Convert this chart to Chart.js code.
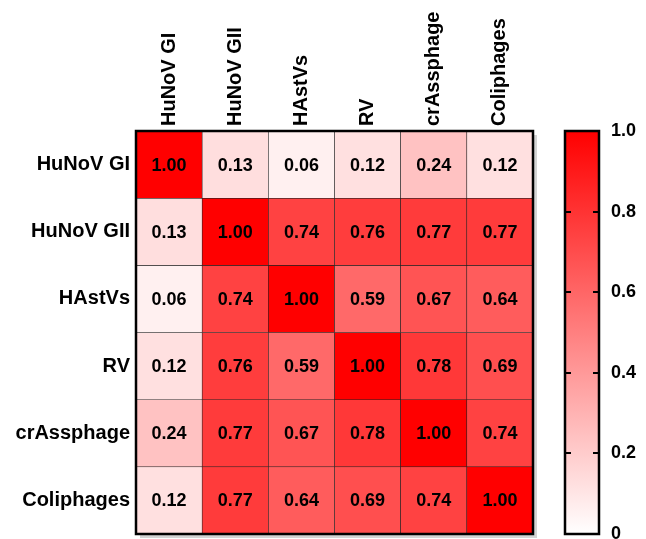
<!DOCTYPE html>
<html>
<head>
<meta charset="utf-8">
<script src="https://cdn.jsdelivr.net/npm/chart.js@4.4.1/dist/chart.umd.min.js"></script>
<style>
    html, body {margin: 0; padding: 0; background: #fff;}
    #wrap {position: relative; width: 646px; height: 539px;}
    #wrap canvas {position: absolute; left: 0; top: 0;}
</style>
</head>
<body>
<div id="wrap">
    <canvas id="heatmap" width="646" height="539"></canvas>
    <canvas id="scaleBar" width="646" height="539"></canvas>
</div>
<script>
const targets = ['HuNoV GI', 'HuNoV GII', 'HAstVs', 'RV', 'crAssphage', 'Coliphages']

const rowHuNoVGI = [1.00, 0.13, 0.06, 0.12, 0.24, 0.12]
const rowHuNoVGII = [0.13, 1.00, 0.74, 0.76, 0.77, 0.77]
const rowHAstVs = [0.06, 0.74, 1.00, 0.59, 0.67, 0.64]
const rowRV = [0.12, 0.76, 0.59, 1.00, 0.78, 0.69]
const rowCrAssphage = [0.24, 0.77, 0.67, 0.78, 1.00, 0.74]
const rowColiphages = [0.12, 0.77, 0.64, 0.69, 0.74, 1.00]
const correlations = [rowHuNoVGI, rowHuNoVGII, rowHAstVs, rowRV, rowCrAssphage, rowColiphages]

const scaleTicks = [0, 0.2, 0.4, 0.6, 0.8, 1.0]

Chart.defaults.font.family = "'Liberation Sans', Arial, sans-serif"
Chart.defaults.font.weight = 'bold'
Chart.defaults.color = '#000'

// white (0) -> pure red (1)
function heatColor(value) {
    const c = Math.round(255 * (1 - value))
    return `rgb(255, ${c}, ${c})`
}

// drop the half-label overhang so the plot area keeps its size
function noOverhang(scale) {
    scale.paddingTop = 0
    scale.paddingBottom = 0
    scale.paddingLeft = 0
    scale.paddingRight = 0
}

const cellLabels = {
    id: 'cellLabels',
    beforeDatasetsDraw(chart) {
        const {ctx, chartArea: a} = chart
        ctx.save()
        ctx.fillStyle = '#d4d4d4'
        ctx.fillRect(a.left + 4, a.top + 4, a.right - a.left, a.bottom - a.top)
        ctx.fillStyle = '#fff'
        ctx.fillRect(a.left, a.top, a.right - a.left, a.bottom - a.top)
        ctx.restore()
    },
    afterDatasetsDraw(chart) {
        const {ctx, chartArea: a} = chart
        ctx.save()
        ctx.font = "bold 18px 'Liberation Sans', Arial, sans-serif"
        ctx.fillStyle = '#000'
        ctx.textAlign = 'center'
        ctx.textBaseline = 'middle'
        chart.data.datasets.forEach((dataset, i) => {
            chart.getDatasetMeta(i).data.forEach((bar, j) => {
                const {x, y, base} = bar.getProps(['x', 'y', 'base'], true)
                ctx.fillText(correlations[i][j].toFixed(2), x, (y + base) / 2 + 1)
            })
        })
        ctx.lineWidth = 2.5
        ctx.strokeStyle = '#000'
        ctx.strokeRect(a.left, a.top, a.right - a.left, a.bottom - a.top)
        ctx.restore()
    },
}

new Chart(document.getElementById('heatmap'), {
    type: 'bar',
    plugins: [cellLabels],
    data: {
        labels: targets,
        datasets: targets.map((row, i) => ({
            label: row,
            data: correlations[i].map(() => [i, i + 1]),
            grouped: false,
            barPercentage: 1,
            categoryPercentage: 1,
            backgroundColor: context => heatColor(correlations[i][context.dataIndex]),
            borderColor: '#222',
            borderWidth: 0.6,
            borderSkipped: false,
        })),
    },
    options: {
        responsive: false,
        animation: false,
        layout: {padding: {left: 0, top: 0, right: 113, bottom: 5}},
        plugins: {legend: {display: false}, tooltip: {enabled: false}},
        scales: {
            x: {
                position: 'top',
                grid: {display: false, drawTicks: false},
                border: {display: false},
                ticks: {
                    minRotation: 90,
                    maxRotation: 90,
                    padding: 5,
                    labelOffset: 24,
                    font: {size: 20, weight: 'bold'},
                    color: '#000',
                },
                afterFit: scale => {
                    scale.height = 131
                    noOverhang(scale)
                },
            },
            y: {
                type: 'linear',
                reverse: true,
                min: 0,
                max: targets.length,
                grid: {display: false, drawTicks: false},
                border: {display: false},
                afterBuildTicks: scale => {
                    scale.ticks = targets.map((_, i) => ({value: i + 0.5}))
                },
                ticks: {
                    padding: 6,
                    font: {size: 20, weight: 'bold'},
                    color: '#000',
                    callback: value => targets[Math.floor(value)],
                },
                afterFit: scale => {
                    scale.width = 136
                    noOverhang(scale)
                },
            },
        },
    },
})

// colour scale bar
const scaleFrame = {
    id: 'scaleFrame',
    afterDatasetsDraw(chart) {
        const {ctx, chartArea: a, scales} = chart
        ctx.save()
        ctx.strokeStyle = '#000'
        ctx.lineWidth = 2
        scaleTicks.slice(1, -1).forEach(v => {
            const y = Math.round(scales.y.getPixelForValue(v))
            ctx.beginPath()
            ctx.moveTo(a.left, y)
            ctx.lineTo(a.left + 6, y)
            ctx.moveTo(a.right - 6, y)
            ctx.lineTo(a.right, y)
            ctx.stroke()
        })
        ctx.lineWidth = 2.5
        ctx.strokeRect(a.left, a.top, a.right - a.left, a.bottom - a.top)
        ctx.restore()
    },
}

new Chart(document.getElementById('scaleBar'), {
    type: 'bar',
    plugins: [scaleFrame],
    data: {
        labels: ['r'],
        datasets: [{
            data: [[scaleTicks[0], scaleTicks[scaleTicks.length - 1]]],
            barPercentage: 1,
            categoryPercentage: 1,
            borderWidth: 0,
            backgroundColor: context => {
                const area = context.chart.chartArea
                if (!area) return '#f00'
                const g = context.chart.ctx.createLinearGradient(0, area.bottom, 0, area.top)
                g.addColorStop(0, heatColor(0))
                g.addColorStop(1, heatColor(1))
                return g
            },
        }],
    },
    options: {
        responsive: false,
        animation: false,
        layout: {padding: {left: 565, top: 131, right: 0, bottom: 5}},
        plugins: {legend: {display: false}, tooltip: {enabled: false}},
        scales: {
            x: {display: false},
            y: {
                position: 'right',
                min: 0,
                max: 1,
                grid: {display: false, drawTicks: false},
                border: {display: false},
                afterBuildTicks: scale => {
                    scale.ticks = scaleTicks.map(v => ({value: v}))
                },
                ticks: {
                    padding: 12,
                    font: {size: 18, weight: 'bold'},
                    color: '#000',
                    callback: value => value === 0 ? '0' : value.toFixed(1),
                },
                afterFit: scale => {
                    scale.width = 47
                    noOverhang(scale)
                },
            },
        },
    },
})
</script>
</body>
</html>
